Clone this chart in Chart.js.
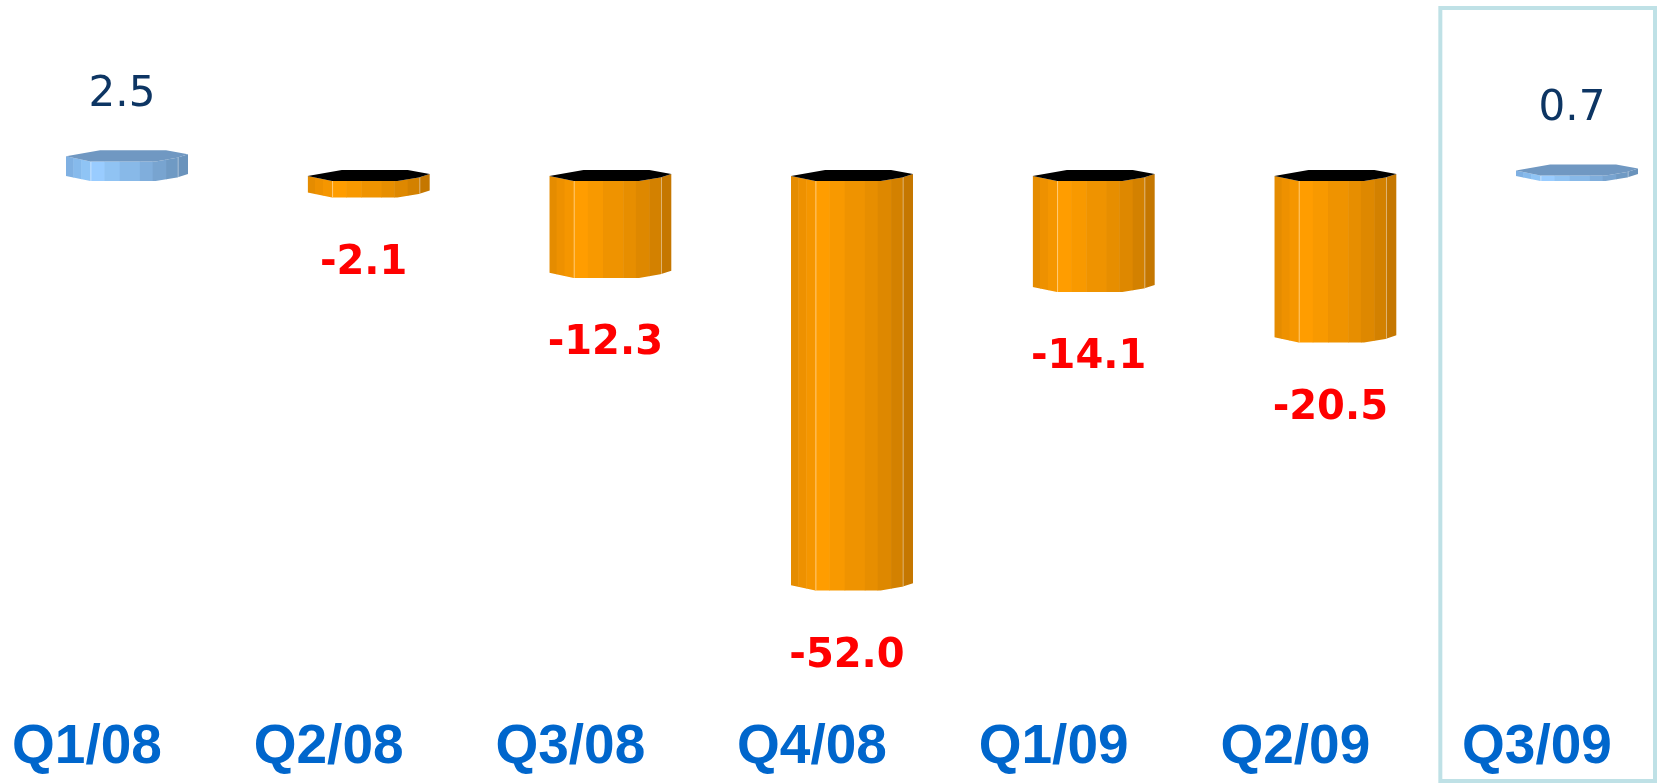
<!DOCTYPE html>
<html>
<head>
<meta charset="utf-8">
<script src="https://cdn.jsdelivr.net/npm/chart.js@4.4.0/dist/chart.umd.min.js"></script>
<style>
  html, body { margin: 0; padding: 0; background: #fff; }
  #wrap { width: 1659px; height: 783px; position: relative; }
</style>
</head>
<body>
<div id="wrap"><canvas id="growthChart"></canvas></div>
<script>
// quarters and growth values
const quarters = ['Q1/08', 'Q2/08', 'Q3/08', 'Q4/08', 'Q1/09', 'Q2/09', 'Q3/09'];
const growth = [2.5, -2.1, -12.3, -52.0, -14.1, -20.5, 0.7];
const highlighted = 'Q3/09';

// the 3d bars sit right of their label, so labels are pulled left
const labelShift = -40;

// outline of the prism, x in half widths, y in px (for a 60px half width)
const frontEdge = [[-1, 0], [-0.6, 5], [0.47, 5], [0.82, 1.5], [1, -2]];
const backEdge = [[1, -2], [0.64, -6], [-0.44, -6], [-1, 0]];
const stripEdges = [-1, -0.88, -0.75, -0.6, -0.37, -0.12, 0.21, 0.42, 0.64, 0.83, 1];
const orangeStrips = ['#e58c00', '#ee9100', '#f59600', '#ff9d00', '#f89900', '#ef9300', '#e78e00', '#de8800', '#d38100', '#c57700'];
const blueStrips = ['#7fb0e2', '#86baec', '#8fc4f5', '#99ccff', '#90c3f3', '#88b9e8', '#80aedc', '#78a4d0', '#6f9ac4', '#6a93bc'];

function drawPrism(ctx, cx, hw, top, bottom, strips, capColor) {
  const k = hw / 60;
  ctx.save();
  ctx.beginPath();
  frontEdge.forEach(([dx, dy], i) => {
    if (i === 0) ctx.moveTo(cx + dx * hw, top + dy * k);
    else ctx.lineTo(cx + dx * hw, top + dy * k);
  });
  frontEdge.slice().reverse().forEach(([dx, dy]) => ctx.lineTo(cx + dx * hw, bottom + dy * k));
  ctx.closePath();
  ctx.clip();
  for (let i = 0; i < strips.length; i++) {
    const x0 = cx + stripEdges[i] * hw;
    const x1 = cx + stripEdges[i + 1] * hw;
    ctx.fillStyle = strips[i];
    ctx.fillRect(x0, top - 12, x1 - x0 + 0.5, bottom - top + 24);
  }
  // thin light edges
  ctx.fillStyle = 'rgba(255,255,255,0.45)';
  ctx.fillRect(cx + stripEdges[3] * hw, top - 12, 1, bottom - top + 24);
  ctx.fillRect(cx + stripEdges[9] * hw, top - 12, 1, bottom - top + 24);
  ctx.restore();

  // cap
  ctx.beginPath();
  frontEdge.forEach(([dx, dy], i) => {
    if (i === 0) ctx.moveTo(cx + dx * hw, top + dy * k);
    else ctx.lineTo(cx + dx * hw, top + dy * k);
  });
  backEdge.forEach(([dx, dy]) => ctx.lineTo(cx + dx * hw, top + dy * k));
  ctx.closePath();
  ctx.fillStyle = capColor;
  ctx.fill();
}

const prismBars = {
  id: 'prismBars',
  beforeDatasetsDraw(chart) {
    // frame round the latest quarter
    const ctx = chart.ctx;
    const meta = chart.getDatasetMeta(0);
    const idx = quarters.indexOf(highlighted);
    const el = meta.data[idx];
    const step = meta.data[1].x - meta.data[0].x;
    const left = el.x + labelShift - 0.4 * step;
    ctx.save();
    ctx.strokeStyle = '#bfe1e6';
    ctx.lineWidth = 4;
    ctx.strokeRect(left, 8, chart.width - 4 - left, chart.height - 10);
    ctx.restore();
  },
  afterDatasetsDraw(chart) {
    const ctx = chart.ctx;
    const meta = chart.getDatasetMeta(0);
    meta.data.forEach((el, i) => {
      const v = growth[i];
      const hw = el.width / 2;
      const top = Math.min(el.y, el.base);
      const bottom = Math.max(el.y, el.base);
      if (v >= 0) drawPrism(ctx, el.x, hw, top, bottom, blueStrips, '#7098c2');
      else drawPrism(ctx, el.x, hw, top, bottom, orangeStrips, '#000000');

      ctx.save();
      ctx.textAlign = 'center';
      ctx.textBaseline = 'middle';
      if (v >= 0) {
        ctx.font = '42px "DejaVu Sans"';
        ctx.fillStyle = '#0d3563';
        ctx.fillText(v.toFixed(1), el.x - 5, el.y - 61);
      } else {
        ctx.font = 'bold 40px "DejaVu Sans"';
        ctx.fillStyle = '#ff0000';
        ctx.fillText(v.toFixed(1), el.x - 5, el.y + 71);
      }
      ctx.restore();
    });
  }
};

new Chart(document.getElementById('growthChart'), {
  type: 'bar',
  data: {
    labels: quarters,
    datasets: [{
      data: growth,
      backgroundColor: 'rgba(0,0,0,0)',
      borderWidth: 0,
      barPercentage: 0.505,
      categoryPercentage: 1
    }]
  },
  options: {
    responsive: true,
    maintainAspectRatio: false,
    animation: false,
    layout: { padding: { left: 127, right: 82, top: 0, bottom: 0 } },
    plugins: { legend: { display: false }, tooltip: { enabled: false } },
    scales: {
      x: {
        offset: false,
        grid: { display: false, drawTicks: false },
        border: { display: false },
        afterFit(scale) {
          scale.height = 82;
          scale.paddingLeft = 0;
          scale.paddingRight = 0;
        },
        ticks: {
          labelOffset: labelShift,
          padding: 14,
          color: '#0066cc',
          font: { family: '"Liberation Sans", Arial', size: 55, weight: 'bold' }
        }
      },
      y: {
        display: false,
        min: -66.7,
        max: 22.36
      }
    }
  },
  plugins: [prismBars]
});
</script>
</body>
</html>
